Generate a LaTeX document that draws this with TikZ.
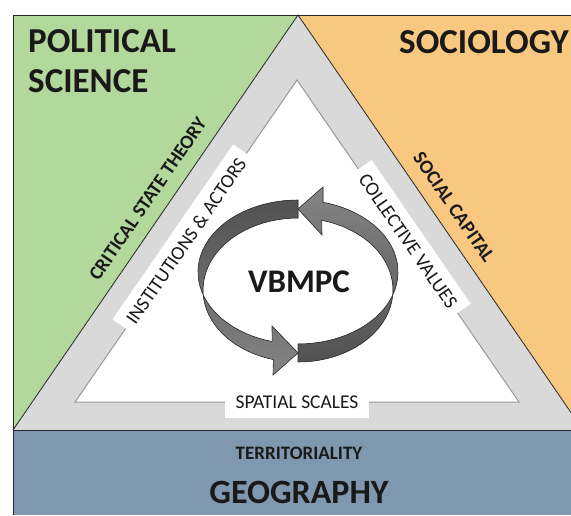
\documentclass[tikz,border=0pt]{standalone}
\usepackage{fontspec}
\setmainfont{Carlito}
\usetikzlibrary{positioning}
\definecolor{polGreen}{HTML}{B3D89B}
\definecolor{socOrange}{HTML}{F9C880}
\definecolor{geoBlue}{HTML}{7F98AF}
\definecolor{bandGray}{HTML}{D9D9D9}

\begin{document}
\begin{tikzpicture}[
    x=1pt, y=-1pt,
    every node/.style={font=\fontsize{19.5}{22}\selectfont, text=black!90},
    field/.style={font=\fontsize{35}{40}\selectfont\bfseries, inner sep=0pt},
    theory/.style={font=\fontsize{19.5}{21}\selectfont\bfseries, inner sep=2pt, sloped},
    tag/.style={fill=white, sloped, minimum height=32pt, inner xsep=8pt},
    ring/.style={draw=black!80, line width=0.6pt},
  ]
  \useasboundingbox (0,0) rectangle (571,515);
  \clip (0,0) rectangle (571,515);

  % Corners of the outer and inner triangles
  \coordinate (oL) at (13,430);
  \coordinate (oT) at (298,15);
  \coordinate (oR) at (583,430);
  \coordinate (iL) at (75,402);
  \coordinate (iT) at (297,80);
  \coordinate (iR) at (519,402);

  % Discipline fields
  \fill[polGreen] (13,15) -- (oT) -- (oL) -- cycle;
  \fill[socOrange] (oT) -- (600,15) -- (600,430) -- (oR) -- cycle;
  \fill[bandGray] (oL) -- (oT) -- (oR) -- cycle;
  \draw[black!85, line width=0.8pt] (oL) -- (oT) -- (oR);
  \fill[geoBlue] (13,430) rectangle (600,515);
  \draw[black!85, line width=0.8pt] (13,430) -- (600,430);
  \draw[black!85, line width=0.8pt] (13,515) -- (13,15) -- (600,15);

  % Inner triangle
  \filldraw[fill=white, draw=black!40, line width=1pt] (iL) -- (iT) -- (iR) -- cycle;

  % Labels on the inner edges
  \path (iL) -- (iT) node[midway, tag] (inst) {INSTITUTIONS \& ACTORS};
  \path (iT) -- (iR) node[midway, tag] (coll) {COLLECTIVE VALUES};
  \path (iL) -- (iR) node[midway, tag, inner xsep=11pt] (spat) {SPATIAL SCALES};

  % Theories along the outer edges
  \path (oL) -- (oT) node[pos=0.53, theory, above=11pt] (cst) {CRITICAL STATE THEORY};
  \path (oT) -- (oR) node[pos=0.49, theory, above=11pt] (soc) {SOCIAL CAPITAL};

  % Field names
  \node[field, anchor=north west, align=left] (pol) at (28,29) {POLITICAL\\SCIENCE};
  \node[field, anchor=base east] (socio) at (569,53) {SOCIOLOGY};
  \node[font=\fontsize{19}{22}\selectfont\bfseries, anchor=base] (terr) at (299,459) {TERRITORIALITY};
  \node[field, font=\fontsize{34}{38}\selectfont\bfseries, anchor=base] (geo) at (299,503) {GEOGRAPHY};

  % Cycle arrows round the core
  \filldraw[ring, top color=black!68, bottom color=black!48]
    plot[domain=90:255, samples=40] ({298+100*cos(\x)}, {272-72*sin(\x)})
    -- (272,326) -- (298,353) -- (273,375)
    -- plot[domain=255:90, samples=40] ({298+95*cos(\x)}, {290-72*sin(\x)}) -- cycle;
  \filldraw[ring, bottom color=black!68, top color=black!48]
    plot[domain=270:435.5, samples=40] ({298+100*cos(\x)}, {272-72*sin(\x)})
    -- (323,187) -- (298,209) -- (322,235)
    -- plot[domain=435.5:270, samples=40] ({298+95*cos(\x)}, {290-72*sin(\x)}) -- cycle;
  \node[font=\fontsize{33}{36}\selectfont\bfseries, anchor=base] (core) at (299,292) {VBMPC};
\end{tikzpicture}
\end{document}
